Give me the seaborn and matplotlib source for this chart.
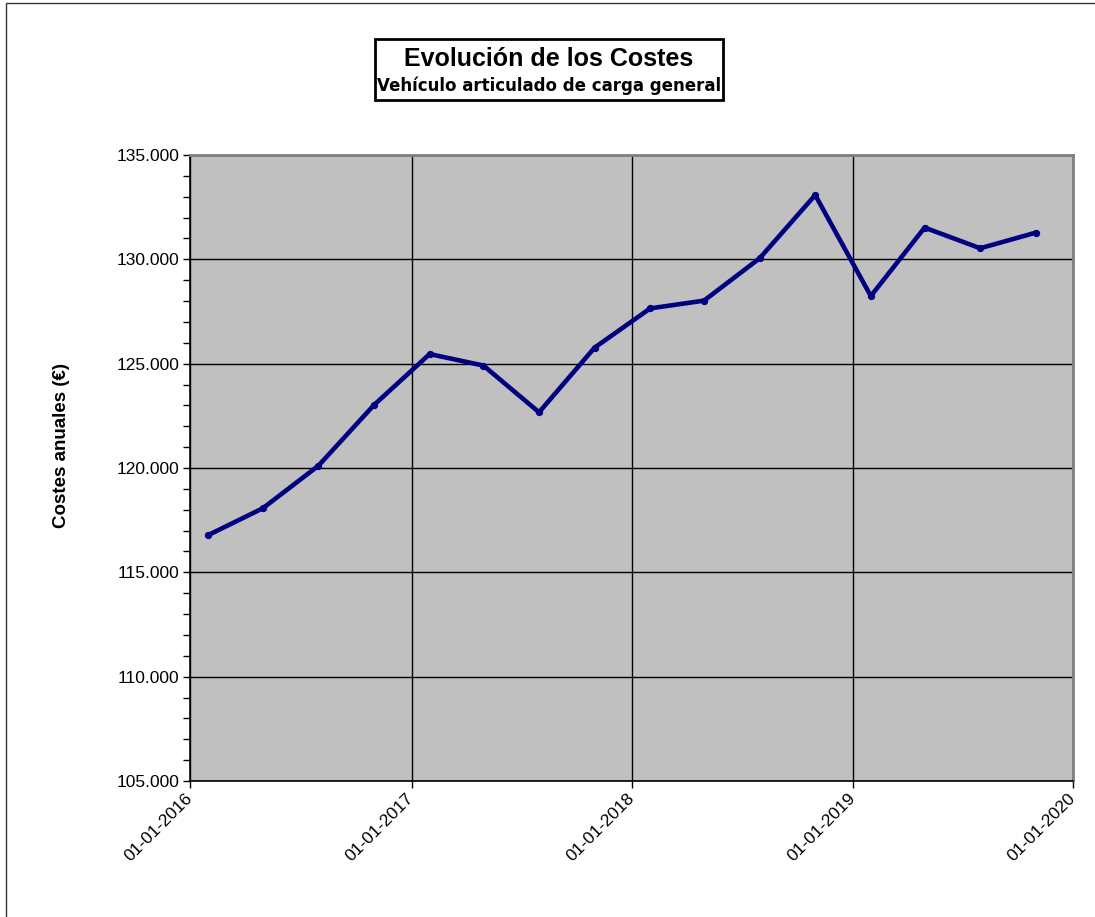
"""
Evolución de los Costes — vehículo articulado de carga general.
Recreates the Excel-style quarterly cost line chart with seaborn.
"""

import pandas as pd
import matplotlib
matplotlib.use("Agg")
import matplotlib.pyplot as plt
import matplotlib.dates as mdates
import matplotlib.ticker as mticker
from matplotlib.patches import Rectangle
import seaborn as sns

# ─── DATA ────────────────────────────────────────────────────────────────────

fechas = [
    "2016-01-31", "2016-04-30", "2016-07-31", "2016-10-31",
    "2017-01-31", "2017-04-30", "2017-07-31", "2017-10-31",
    "2018-01-31", "2018-04-30", "2018-07-31", "2018-10-31",
    "2019-01-31", "2019-04-30", "2019-07-31", "2019-10-31",
]
costes = [
    116790, 118070, 120110, 123020,
    125460, 124910, 122670, 125770,
    127650, 128020, 130050, 133080,
    128240, 131520, 130530, 131280,
]

titulo = "Evolución de los Costes"
subtitulo = "Vehículo articulado de carga general"
etiqueta_y = "Costes anuales (€)"
x_inicio, x_fin = "2016-01-01", "2020-01-01"
y_min, y_max = 105000, 135000

# ─── PLOT ────────────────────────────────────────────────────────────────────

sns.set_style("ticks")
plt.rcParams["font.family"] = ["Liberation Sans", "DejaVu Sans"]
plt.rcParams["text.color"] = "black"
plt.rcParams["axes.labelcolor"] = "black"

df = pd.DataFrame({"fecha": pd.to_datetime(fechas), "coste": costes})

W, H = 1095, 917
fig = plt.figure(figsize=(W / 100, H / 100), dpi=100)
ax = fig.add_axes([190.3 / W, 1 - 781 / H, (1073.3 - 190.3) / W, (781 - 155) / H])
ax.set_facecolor("#C0C0C0")

sns.lineplot(data=df, x="fecha", y="coste", ax=ax, color="#000080",
             linewidth=3.3, marker="o", markersize=4.5,
             markeredgecolor="#000080", zorder=3)

ax.set_xlim(pd.Timestamp(x_inicio), pd.Timestamp(x_fin))
ax.set_ylim(y_min, y_max)

ax.xaxis.set_major_locator(mdates.YearLocator())
ax.xaxis.set_major_formatter(mdates.DateFormatter("%d-%m-%Y"))
ax.yaxis.set_major_locator(mticker.MultipleLocator(5000))
ax.yaxis.set_minor_locator(mticker.MultipleLocator(1000))
ax.yaxis.set_major_formatter(mticker.FuncFormatter(lambda v, _: f"{v:,.0f}".replace(",", ".")))

ax.grid(True, which="major", color="black", linewidth=1.0)
ax.set_axisbelow(True)

ax.tick_params(axis="both", which="major", direction="out", length=5, width=1,
               color="black", labelsize=12.5, labelcolor="black", pad=3)
ax.tick_params(axis="x", which="major", pad=6)
ax.tick_params(axis="y", which="minor", direction="out", length=5, width=1, color="black")
plt.setp(ax.get_xticklabels(), rotation=45, ha="right", va="center",
         rotation_mode="anchor")

for side in ["left", "bottom"]:
    ax.spines[side].set_color("black")
    ax.spines[side].set_linewidth(1.2)
for side in ["top", "right"]:
    ax.spines[side].set_visible(True)
    ax.spines[side].set_color("#808080")
    ax.spines[side].set_linewidth(2)

ax.set_xlabel("")
ax.set_ylabel(etiqueta_y, fontsize=13.5, weight="bold")
ax.yaxis.set_label_coords((70 - 190.3) / 883, (781 - 446) / 626)

# title box
fig.patches.append(Rectangle((375 / W, 1 - 100 / H), (723 - 375) / W, (100 - 39.5) / H,
                             transform=fig.transFigure, fill=False,
                             edgecolor="black", linewidth=2))
fig.text(549 / W, 1 - 59 / H, titulo, ha="center", va="center",
         fontsize=18, weight="bold")
fig.text(549 / W, 1 - 85.5 / H, subtitulo, ha="center", va="center",
         fontsize=12, weight="bold", family=["DejaVu Sans"])

# outer chart frame (cut at right and bottom like the reference)
fig.patches.append(Rectangle((6 / W, -0.1), 2, (H - 3.5) / H + 0.1,
                             transform=fig.transFigure, fill=False,
                             edgecolor="#333333", linewidth=1))

fig.savefig("out.png", dpi=100)
